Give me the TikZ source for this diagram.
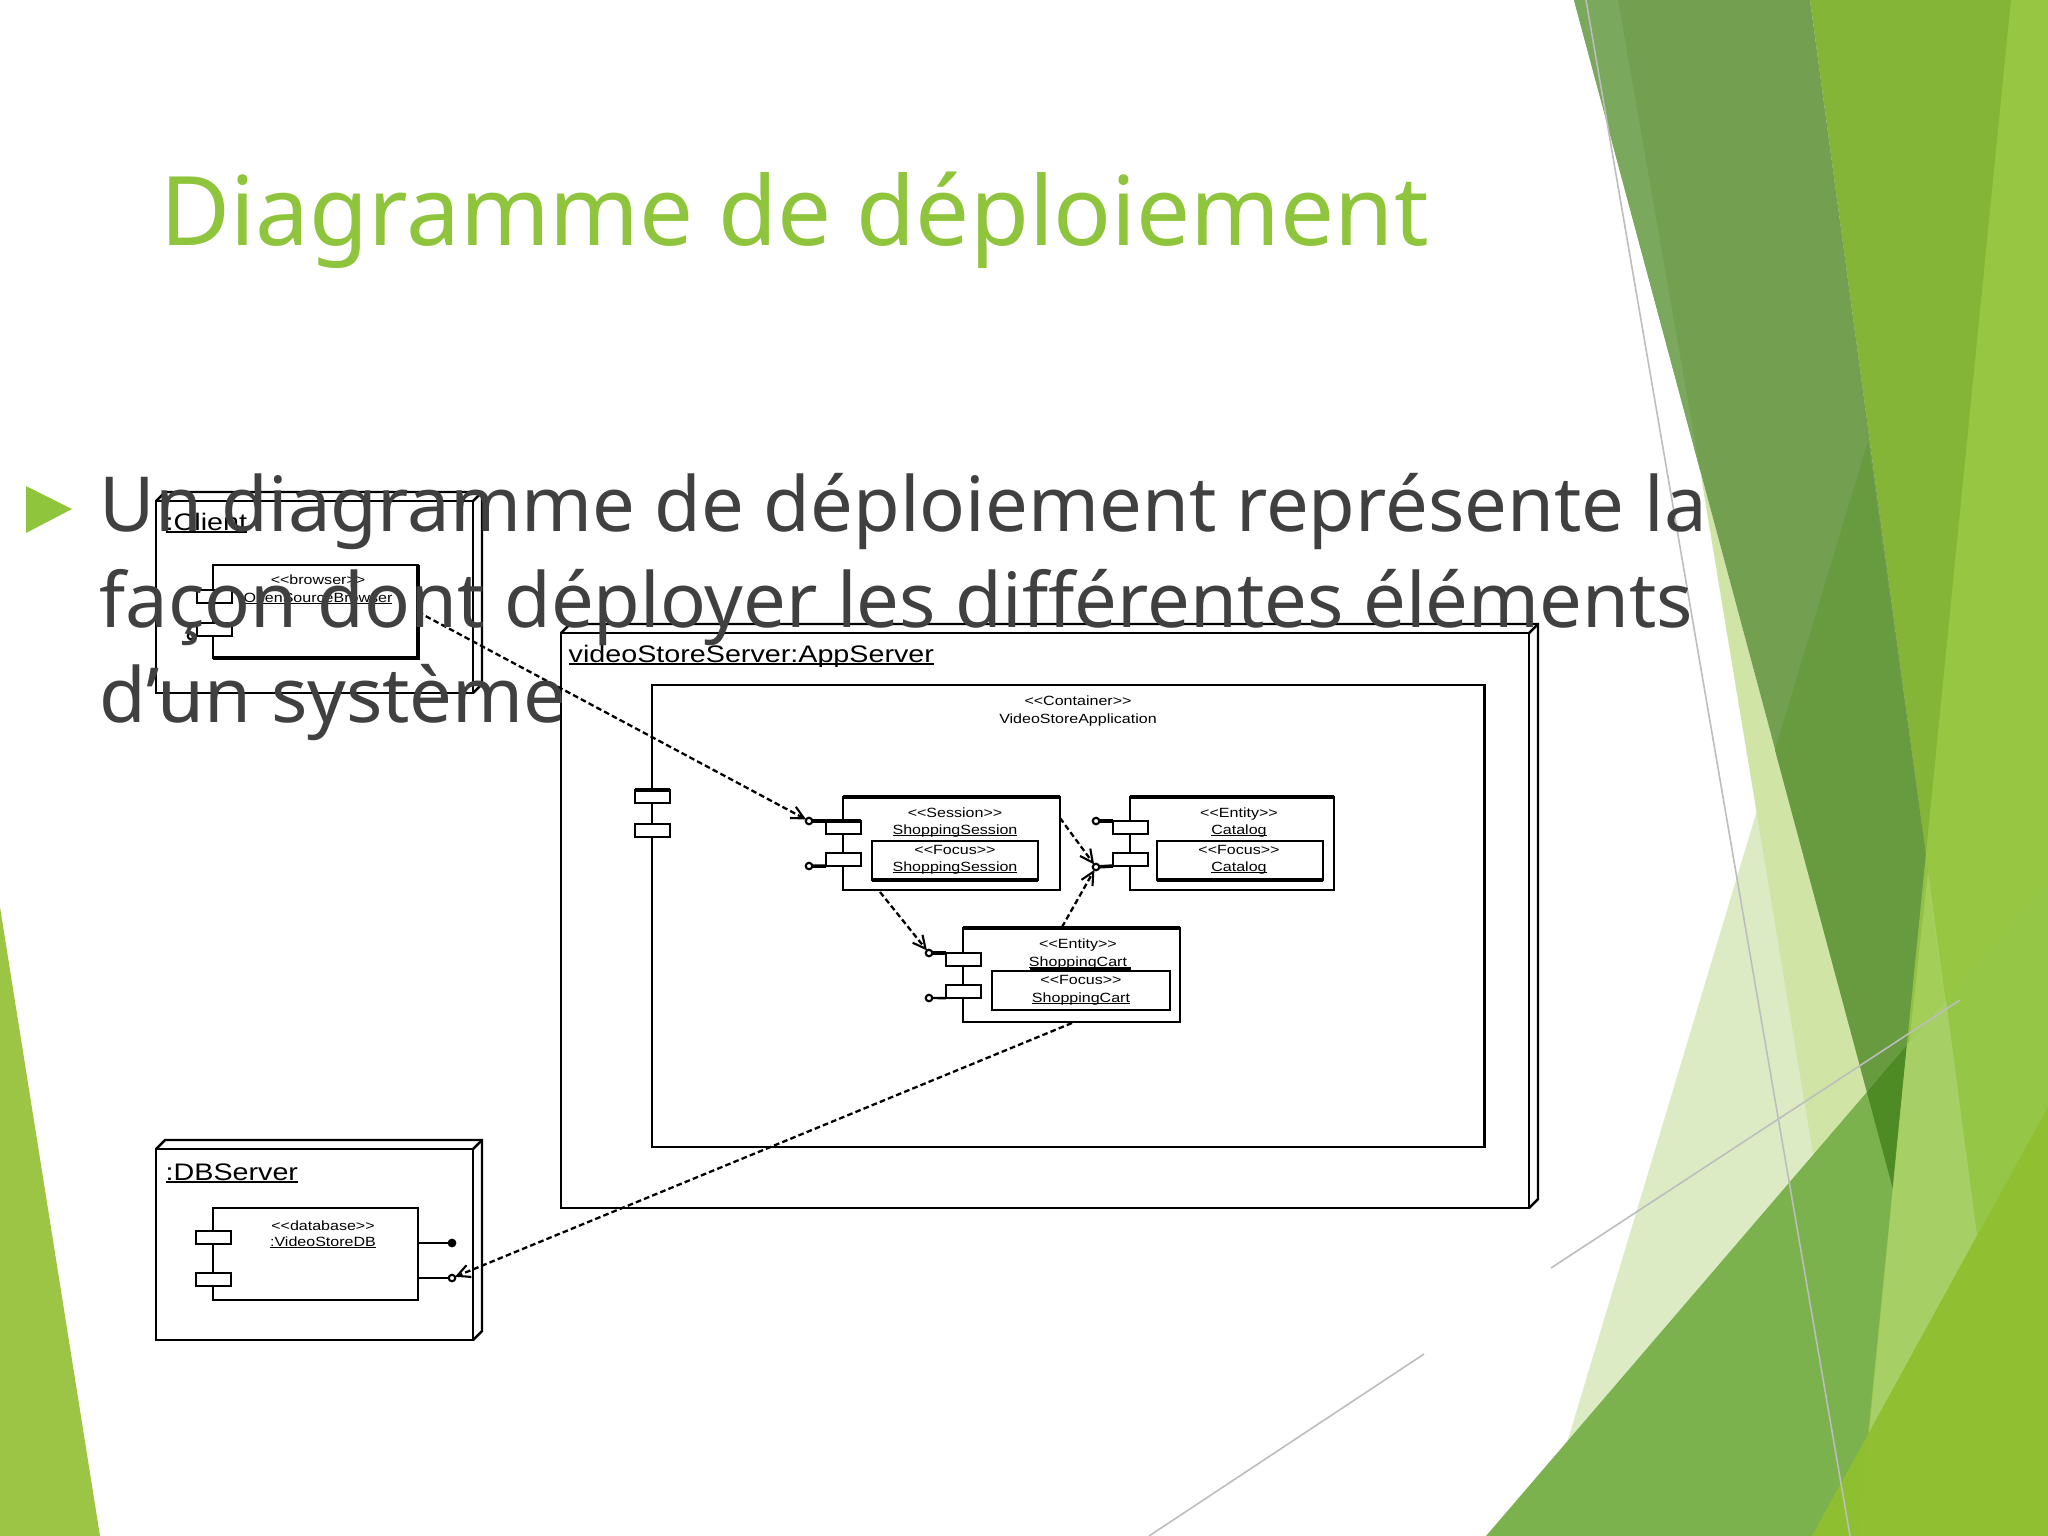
\documentclass[tikz,border=0pt]{standalone}
\usepackage{fontspec}
\setmainfont{Noto Sans}
\newfontfamily\umlfont{Liberation Sans}
\usetikzlibrary{arrows.meta}
\definecolor{titlegreen}{HTML}{8FC43D}
\definecolor{bodygray}{HTML}{404040}
\definecolor{cM}{HTML}{85B536}
\definecolor{cP2}{HTML}{DDEBC4}
\definecolor{cP1}{HTML}{CFE4A5}
\definecolor{cG}{HTML}{7CB24E}
\definecolor{cD}{HTML}{72A050}
\definecolor{cDP}{HTML}{689A40}
\definecolor{cTip}{HTML}{4F8B24}
\definecolor{cS}{HTML}{7AA85C}
\definecolor{cB}{HTML}{9ACA45}
\definecolor{cL}{HTML}{A6D066}
\definecolor{cBT}{HTML}{90C030}
\definecolor{cLeft}{HTML}{9CC545}
\definecolor{grayline}{HTML}{BDBDBD}
\newcommand\sx[1]{\scalebox{1.2}[1]{#1}}
\newcommand\ul[1]{\setbox0\hbox{#1}\rlap{\rule[-0.14em]{\wd0}{0.1em}}\box0}
\tikzset{
  uml/.style={draw=black, line width=0.7pt},
  comp/.style={draw=black, line width=0.6pt, fill=white, inner sep=0pt, outer sep=0pt, anchor=north west},
  port/.style={draw=black, line width=0.6pt, fill=white, inner sep=0pt, outer sep=0pt, anchor=north west, minimum width=0.35cm, minimum height=0.13cm},
  lolli/.style={circle, draw=black, fill=white, line width=0.6pt, inner sep=0pt, outer sep=0pt, minimum size=0.065cm},
  dep/.style={draw=black, line width=0.65pt, dash pattern=on 1.6pt off 0.9pt, -{Straight Barb[length=3.6pt,width=3.6pt,line width=0.6pt]}},
  lbl/.style={font=\umlfont\fontsize{6.8pt}{8pt}\selectfont, inner sep=0pt, anchor=base west},
  sml/.style={font=\umlfont\fontsize{3.8pt}{4.5pt}\selectfont, inner sep=0pt, anchor=base},
  thin/.style={draw=grayline, line width=0.45pt},
  slide/.style={anchor=base west, inner sep=0pt, text=bodygray, font=\fontsize{21.6pt}{26pt}\selectfont},
}
\begin{document}
\begin{tikzpicture}[x=0.01cm, y=-0.01cm, line join=miter]
\useasboundingbox (0,0) rectangle (2048,1536);
\fill[white] (0,0) rectangle (2048,1536);

% ---------- decorative facets ----------
\fill[cLeft] (0,907) -- (100,1536) -- (0,1536) -- cycle;
\fill[cM] (1810,0) -- (2048,0) -- (2048,1536) -- (2018,1536) -- cycle;
\fill[cP2] (1868,441) -- (1539,1536) -- (2018,1536) -- cycle;
\fill[cP1] (1700,470) -- (1815,1166) -- (1893,1189) -- cycle;
\fill[cG] (1486,1536) -- (2048,881) -- (2048,1536) -- cycle;
\fill[cD] (1574,0) -- (1810,0) -- (1928,870) -- (1893,1189) -- cycle;
\fill[cDP] (1868,441) -- (1775,750) -- (1893,1189) -- (1928,870) -- cycle;
\fill[cS] (1574,0) -- (1618,0) -- (1700,470) -- cycle;
\fill[cTip] (1867,1092) -- (1907,1045) -- (1893,1189) -- cycle;
\fill[cB, opacity=0.85] (2011,0) -- (2048,0) -- (2048,1536) -- (1858,1536) -- cycle;
\fill[cL] (1907,1045) -- (1946,1000) -- (1977,1235) -- (1869,1433) -- cycle;
\fill[cBT, opacity=0.95] (1812,1536) -- (2048,1107) -- (2048,1536) -- cycle;
\draw[thin] (1586,0) -- (1850,1536);
\draw[thin] (1551,1268) -- (1960,1000);
\draw[thin] (1149,1536) -- (1424,1354);

% ---------- :Client node ----------
\draw[uml, fill=white] (156,501) rectangle (473,693);
\draw[uml] (156,501) -- (165,492) -- (482,492) -- (482,684) -- (473,693);
\draw[uml] (473,501) -- (482,492);
\node[lbl] (clientlbl) at (165,530) {\sx{\ul{:Client}}};
\node[comp, minimum width=2.05cm, minimum height=0.93cm] (browser) at (213,565) {};
\draw[line width=1pt] (browser.south west) -- (browser.south east) -- (browser.north east);
\node[port] (brP1) at (197,590) {};
\node[port] (brP2) at (197,623) {};
\node[lolli] (brL2) at (191,636) {};
\node[sml] (brt1) at (318,584) {\sx{<<browser>>}};
\node[sml] (brt2) at (318,602) {\sx{\ul{OpenSourceBrowser}}};
\coordinate (brOut) at (418,612);

% ---------- :DBServer node ----------
\draw[uml, fill=white] (156,1149) rectangle (473,1340);
\draw[uml] (156,1149) -- (165,1140) -- (482,1140) -- (482,1331) -- (473,1340);
\draw[uml] (473,1149) -- (482,1140);
\node[lbl] (dblbl) at (165,1180) {\sx{\ul{:DBServer}}};
\node[comp, minimum width=2.05cm, minimum height=0.92cm] (db) at (213,1208) {};
\node[port] (dbP1) at (196,1231) {};
\node[port] (dbP2) at (196,1273) {};
\node[lolli, fill=black] (dbL1) at (452,1243) {};
\node[lolli] (dbL2) at (452,1278) {};
\draw[uml] (418,1243) -- (dbL1);
\draw[uml] (418,1278) -- (dbL2);
\node[sml] (dbt1) at (323,1230) {\sx{<<database>>}};
\node[sml] (dbt2) at (323,1246) {\sx{\ul{:VideoStoreDB}}};

% ---------- videoStoreServer:AppServer node ----------
\draw[uml, fill=white] (561,633) rectangle (1529,1208);
\draw[uml] (561,633) -- (570,624) -- (1538,624) -- (1538,1199) -- (1529,1208);
\draw[uml] (1529,633) -- (1538,624);
\node[lbl] (applbl) at (568,662) {\sx{\ul{videoStoreServer:AppServer}}};
\node[comp, minimum width=8.32cm, minimum height=4.62cm] (cont) at (652,685) {};
\node[port] (cP1) at (635,790) {};
\draw[line width=1.1pt] (cP1.north west) -- (cP1.north east);
\node[port] (cP2) at (635,824) {};
\node[sml] (ct1) at (1078,705) {\sx{<<Container>>}};
\node[sml] (ct2) at (1078,723) {\sx{VideoStoreApplication}};

% ShoppingSession
\node[comp, minimum width=2.17cm, minimum height=0.93cm] (ss) at (843,797) {};
\draw[line width=1.2pt] (ss.north west) -- (ss.north east);
\node[comp, minimum width=1.66cm, minimum height=0.39cm, line width=0.7pt] (ssf) at (872,841) {};
\draw[line width=1.2pt] (ssf.south west) -- (ssf.south east);
\node[port] (ssP1) at (826,821) {};
\draw[line width=1.1pt] (ssP1.north west) -- (ssP1.north east);
\node[port] (ssP2) at (826,853) {};
\node[lolli] (ssL1) at (809,821) {};
\node[lolli] (ssL2) at (809,866) {};
\draw[line width=1pt] (ssL1) -- (ssP1.north west);
\draw[line width=1pt] (ssL2) -- (ssP2.south west);
\node[sml] (sst1) at (955,817) {\sx{<<Session>>}};
\node[sml] (sst2) at (955,834) {\sx{\ul{ShoppingSession}}};
\node[sml] (sst3) at (955,854) {\sx{<<Focus>>}};
\node[sml] (sst4) at (955,871) {\sx{\ul{ShoppingSession}}};

% Catalog
\node[comp, minimum width=2.04cm, minimum height=0.93cm] (cat) at (1130,797) {};
\draw[line width=1.2pt] (cat.north west) -- (cat.north east);
\node[comp, minimum width=1.66cm, minimum height=0.39cm, line width=0.7pt] (catf) at (1157,841) {};
\draw[line width=1.2pt] (catf.south west) -- (catf.south east);
\node[port] (catP1) at (1113,821) {};
\node[port] (catP2) at (1113,853) {};
\node[lolli] (catL1) at (1096,821) {};
\node[lolli] (catL2) at (1096,867) {};
\draw[line width=1pt] (catL1) -- (catP1.north west);
\draw[line width=1pt] (catL2) -- (catP2.south west);
\node[sml] (catt1) at (1239,817) {\sx{<<Entity>>}};
\node[sml] (catt2) at (1239,834) {\sx{\ul{Catalog}}};
\node[sml] (catt3) at (1239,854) {\sx{<<Focus>>}};
\node[sml] (catt4) at (1239,871) {\sx{\ul{Catalog}}};

% ShoppingCart
\node[comp, minimum width=2.17cm, minimum height=0.94cm] (cart) at (963,928) {};
\draw[line width=1.2pt] (cart.north west) -- (cart.north east);
\node[comp, minimum width=1.78cm, minimum height=0.39cm, line width=0.7pt] (cartf) at (992,971) {};
\draw[line width=1.3pt] (1030,969) -- (1131,969);
\node[port] (cartP1) at (946,953) {};
\node[port] (cartP2) at (946,985) {};
\node[lolli] (cartL1) at (929,953) {};
\node[lolli] (cartL2) at (929,998) {};
\draw[line width=1pt] (cartL1) -- (cartP1.north west);
\draw[line width=0.7pt] (cartL2) -- (cartP2.south west);
\node[sml] (cartt1) at (1078,948) {\sx{<<Entity>>}};
\node[sml] (cartt2) at (1078,966) {\sx{\ul{ShoppingCart}}};
\node[sml] (cartt3) at (1081,984) {\sx{<<Focus>>}};
\node[sml] (cartt4) at (1081,1002) {\sx{\ul{ShoppingCart}}};

% ---------- dependencies ----------
\coordinate (ssOut) at (1060,818);
\coordinate (ssBot) at (880,892);
\coordinate (cartTop) at (1062,927);
\coordinate (cartBot) at (1072,1023);
\draw[dep] (brOut) -- (ssL1);
\draw[dep] (ssOut) -- (catL2);
\draw[dep] (ssBot) -- (cartL1);
\draw[dep] (cartTop) -- (catL2);
\draw[dep] (cartBot) -- (dbL2);

% ---------- slide text ----------
\node[anchor=base west, inner sep=0pt, text=titlegreen, font=\fontsize{27.3pt}{32pt}\selectfont] (title) at (160,245) {Diagramme de déploiement};
\fill[titlegreen] (26,486) -- (72,509) -- (26,533) -- cycle;
\node[slide] (l1) at (99,531) {Un diagramme de déploiement représente la};
\node[slide] (l2) at (99,627) {façon dont déployer les différentes éléments};
\node[slide] (l3) at (99,722) {d’un système};
\end{tikzpicture}
\end{document}
